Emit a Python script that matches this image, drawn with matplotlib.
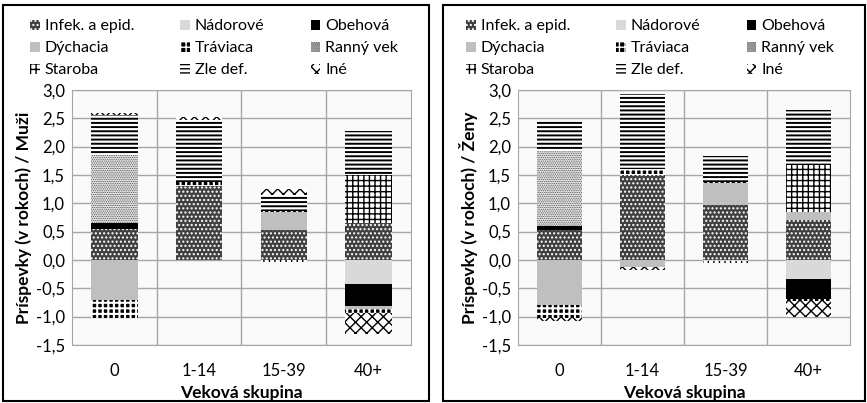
import matplotlib
matplotlib.use('Agg')
import matplotlib.pyplot as plt
from matplotlib.patches import Rectangle, Patch
from matplotlib.ticker import FuncFormatter, FixedLocator

plt.rcParams['font.family'] = ['Lato', 'DejaVu Sans']
plt.rcParams['hatch.linewidth'] = 1.0

skupiny = ['0', '1-14', '15-39', '40+']
serie = ['Infek. a epid.', 'Nádorové', 'Obehová', 'Dýchacia', 'Tráviaca',
         'Ranný vek', 'Staroba', 'Zle def.', 'Iné']

# Muži - prispevky (v rokoch)
muzi_infek = [0.55, 1.30, 0.52, 0.66]
muzi_nador = [0.00, 0.00, 0.00, -0.43]
muzi_obeh = [0.10, 0.00, 0.00, -0.39]
muzi_dych = [-0.70, 0.00, 0.33, -0.05]
muzi_trav = [-0.33, 0.08, 0.02, -0.06]
muzi_ranny = [1.20, 0.00, 0.00, 0.00]
muzi_staroba = [0.00, 0.00, -0.03, 0.84]
muzi_zle = [0.71, 1.09, 0.28, 0.78]
muzi_ine = [0.03, 0.06, 0.11, -0.37]

# Ženy
zeny_infek = [0.53, 1.50, 0.97, 0.71]
zeny_nador = [0.00, 0.00, -0.02, -0.33]
zeny_obeh = [0.07, 0.00, 0.00, -0.36]
zeny_dych = [-0.80, -0.12, 0.38, 0.13]
zeny_trav = [-0.22, 0.10, 0.03, -0.03]
zeny_ranny = [1.33, 0.00, 0.00, 0.00]
zeny_staroba = [0.00, 0.00, -0.03, 0.84]
zeny_zle = [0.52, 1.33, 0.45, 0.97]
zeny_ine = [-0.05, -0.05, 0.00, -0.28]

muzi = [muzi_infek, muzi_nador, muzi_obeh, muzi_dych, muzi_trav,
        muzi_ranny, muzi_staroba, muzi_zle, muzi_ine]
zeny = [zeny_infek, zeny_nador, zeny_obeh, zeny_dych, zeny_trav,
        zeny_ranny, zeny_staroba, zeny_zle, zeny_ine]

# vzhlad: (vypln, farba srafy, sraf, hrubka srafy)
styly = [('#404040', 'white', '....', 1.0),
         ('#d9d9d9', '#d9d9d9', None, 1.0),
         ('black', 'black', None, 1.0),
         ('#bfbfbf', '#bfbfbf', None, 1.0),
         ('black', 'white', '+++', 1.5),
         ('#e6e6e6', '#444444', '.........', 0.5),
         ('white', 'black', '+++', 1.0),
         ('white', 'black', '----', 1.4),
         ('white', 'black', 'xxx', 1.0)]


def kresli(fig, ax, data, ylabel, leg_x):
    x = list(range(len(skupiny)))
    pos = [0.0] * len(skupiny)
    neg = [0.0] * len(skupiny)
    for vals, (fc, hc, h, hlw) in zip(data, styly):
        bott = [pos[i] if v >= 0 else neg[i] for i, v in enumerate(vals)]
        bars = ax.bar(x, vals, bottom=bott, width=0.55, color=fc,
                      edgecolor=hc, linewidth=0, hatch=h, zorder=3)
        for b in bars:
            if hasattr(b, 'set_hatch_linewidth'):
                b.set_hatch_linewidth(hlw)
        for i, v in enumerate(vals):
            if v >= 0:
                pos[i] += v
            else:
                neg[i] += v
    ax.set_xlim(-0.5, 3.5)
    ax.set_ylim(-1.5, 3.0)
    ax.set_yticks([-1.5, -1.0, -0.5, 0.0, 0.5, 1.0, 1.5, 2.0, 2.5, 3.0])
    ax.yaxis.set_major_formatter(FuncFormatter(lambda v, p: f'{v:.1f}'.replace('.', ',')))
    ax.set_xticks(x)
    ax.set_xticklabels(skupiny, fontsize=12)
    ax.xaxis.set_minor_locator(FixedLocator([0.5, 1.5, 2.5]))
    ax.tick_params(axis='x', which='both', length=0, pad=13)
    ax.tick_params(axis='y', length=0, labelsize=12, pad=5)
    ax.grid(True, axis='y', which='major', color='#a6a6a6', lw=1, zorder=0)
    ax.grid(True, axis='x', which='minor', color='#a6a6a6', lw=1, zorder=0)
    ax.set_facecolor('#fafafa')
    for s in ax.spines.values():
        s.set_color('#a6a6a6')
    ax.set_xlabel('Veková skupina', fontsize=12.5, fontweight='bold', labelpad=4)
    ax.set_ylabel(ylabel, fontsize=12.5, fontweight='bold', labelpad=3)

    # legenda po riadkoch (matplotlib plni po stlpcoch)
    poradie = [0, 3, 6, 1, 4, 7, 2, 5, 8]
    handles = []
    for k in poradie:
        fc, hc, h, hlw = styly[k]
        handles.append(Patch(facecolor=fc, edgecolor=hc, linewidth=0, hatch=h, label=serie[k]))
    fig.legend(handles=handles, ncol=3, loc='upper left', bbox_to_anchor=(leg_x, 1 - 13 / 403),
               bbox_transform=fig.transFigure,
               frameon=False, fontsize=11.5, handlelength=0.6, handleheight=0.6,
               handletextpad=0.3, columnspacing=2.9, labelspacing=0.5,
               borderaxespad=0.0)


fig = plt.figure(figsize=(8.67, 4.03), dpi=100)
ax1 = fig.add_axes([0.083, 0.144, 0.391, 0.633])
ax2 = fig.add_axes([0.5975, 0.144, 0.383, 0.633])

kresli(fig, ax1, muzi, 'Príspevky (v rokoch) / Muži', 24 / 867)
kresli(fig, ax2, zeny, 'Príspevky (v rokoch) / Ženy', 460 / 867)

fig.add_artist(Rectangle((3 / 867, 2 / 403), 426 / 867, 396 / 403,
                         transform=fig.transFigure, fill=False, ec='black', lw=1.5))
fig.add_artist(Rectangle((443 / 867, 2 / 403), 422 / 867, 396 / 403,
                         transform=fig.transFigure, fill=False, ec='black', lw=1.5))

fig.savefig('out.png', dpi=100)
